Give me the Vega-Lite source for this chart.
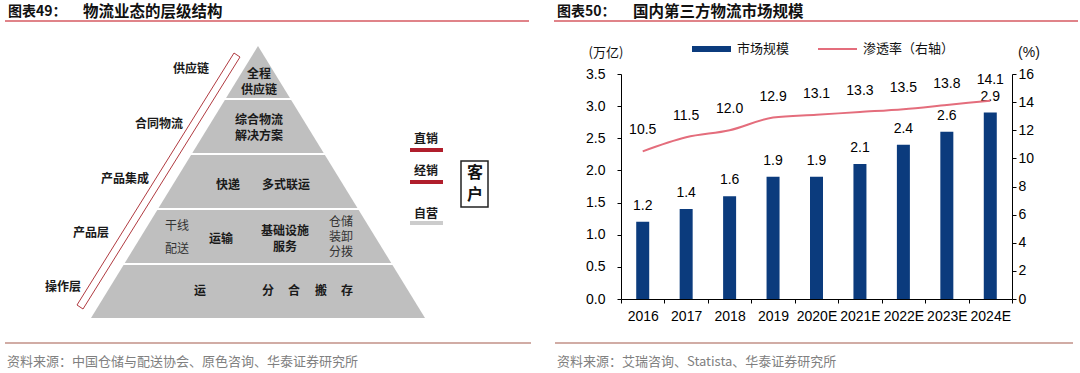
{
  "$schema": "https://vega.github.io/schema/vega-lite/v6.json",
  "width": 391,
  "height": 225,
  "padding": 0,
  "autosize": {"type": "pad"},
  "background": "white",
  "config": {
    "view": {"stroke": null},
    "axis": {"labelFont": "Liberation Sans", "labelFontSize": 14, "labelColor": "#000", "domainColor": "#000", "tickColor": "#000", "grid": false, "title": null}
  },
  "datasets": {
    "market": [
      {"year": "2016", "size": 1.2, "rate": 10.5},
      {"year": "2017", "size": 1.4, "rate": 11.5},
      {"year": "2018", "size": 1.6, "rate": 12.0},
      {"year": "2019", "size": 1.9, "rate": 12.9},
      {"year": "2020E", "size": 1.9, "rate": 13.1},
      {"year": "2021E", "size": 2.1, "rate": 13.3},
      {"year": "2022E", "size": 2.4, "rate": 13.5},
      {"year": "2023E", "size": 2.6, "rate": 13.8},
      {"year": "2024E", "size": 2.9, "rate": 14.1}
    ],
    "bounds": [{"x": 0, "x2": 1080, "y": 0, "y2": 373}],
    "pyramid": [
      {"y": 46, "xl": 258, "xr": 258},
      {"y": 318, "xl": 91, "xr": 425}
    ],
    "strip": [
      {"i": 0, "x": 77, "y": 305},
      {"i": 1, "x": 234, "y": 53},
      {"i": 2, "x": 240, "y": 57},
      {"i": 3, "x": 83, "y": 309},
      {"i": 4, "x": 77, "y": 305}
    ],
    "box": [{"x": 461, "x2": 488, "y": 161, "y2": 207}],
    "rules": [
      {"k": "title", "x": 5, "x2": 529, "y": 21},
      {"k": "title", "x": 554, "x2": 1078, "y": 21},
      {"k": "foot", "x": 5, "x2": 531, "y": 343},
      {"k": "foot", "x": 555, "x2": 1073, "y": 343},
      {"k": "sep", "x": 223, "x2": 293, "y": 99},
      {"k": "sep", "x": 189, "x2": 327, "y": 154},
      {"k": "sep", "x": 155, "x2": 361, "y": 209},
      {"k": "sep", "x": 121, "x2": 395, "y": 264},
      {"k": "red", "x": 410, "x2": 443, "y": 150},
      {"k": "red", "x": 410, "x2": 443, "y": 182},
      {"k": "gray", "x": 410, "x2": 443, "y": 223},
      {"k": "legBar", "x": 692, "x2": 731, "y": 49},
      {"k": "legLine", "x": 818, "x2": 857, "y": 49}
    ],
    "labels": [
      {"k": "tnum", "x": 8, "y": 12, "t": "图表49："},
      {"k": "ttl", "x": 83, "y": 12, "t": "物流业态的层级结构"},
      {"k": "tnum", "x": 557, "y": 12, "t": "图表50："},
      {"k": "ttl", "x": 633, "y": 12, "t": "国内第三方物流市场规模"},
      {"k": "foot", "x": 7, "y": 362, "t": "资料来源：中国仓储与配送协会、原色咨询、华泰证券研究所"},
      {"k": "foot", "x": 557, "y": 362, "t": "资料来源：艾瑞咨询、Statista、华泰证券研究所"},
      {"k": "side", "x": 191, "y": 69, "t": "供应链"},
      {"k": "side", "x": 159, "y": 124, "t": "合同物流"},
      {"k": "side", "x": 125, "y": 179, "t": "产品集成"},
      {"k": "side", "x": 91, "y": 233, "t": "产品层"},
      {"k": "side", "x": 63, "y": 287, "t": "操作层"},
      {"k": "side", "x": 426, "y": 139, "t": "直销"},
      {"k": "side", "x": 426, "y": 171, "t": "经销"},
      {"k": "side", "x": 426, "y": 214, "t": "自营"},
      {"k": "pb", "x": 259, "y": 74, "t": "全程"},
      {"k": "pb", "x": 259, "y": 90, "t": "供应链"},
      {"k": "pb", "x": 259, "y": 120, "t": "综合物流"},
      {"k": "pb", "x": 259, "y": 136, "t": "解决方案"},
      {"k": "pb", "x": 228, "y": 185, "t": "快递"},
      {"k": "pb", "x": 286, "y": 185, "t": "多式联运"},
      {"k": "pb", "x": 221, "y": 239, "t": "运输"},
      {"k": "pb", "x": 285, "y": 231, "t": "基础设施"},
      {"k": "pb", "x": 285, "y": 247, "t": "服务"},
      {"k": "pb", "x": 200, "y": 291, "t": "运"},
      {"k": "pb", "x": 268, "y": 291, "t": "分"},
      {"k": "pb", "x": 294, "y": 291, "t": "合"},
      {"k": "pb", "x": 321, "y": 291, "t": "搬"},
      {"k": "pb", "x": 347, "y": 291, "t": "存"},
      {"k": "pn", "x": 177, "y": 226, "t": "干线"},
      {"k": "pn", "x": 177, "y": 249, "t": "配送"},
      {"k": "pn", "x": 341, "y": 222, "t": "仓储"},
      {"k": "pn", "x": 341, "y": 237, "t": "装卸"},
      {"k": "pn", "x": 341, "y": 252, "t": "分拨"},
      {"k": "cust", "x": 475, "y": 173, "t": "客"},
      {"k": "cust", "x": 475, "y": 195, "t": "户"},
      {"k": "unit", "x": 606, "y": 53, "t": "(万亿)"},
      {"k": "pct", "x": 1029, "y": 53, "t": "(%)"},
      {"k": "leg", "x": 737, "y": 49, "t": "市场规模"},
      {"k": "leg", "x": 863, "y": 49, "t": "渗透率（右轴）"}
    ]
  },
  "layer": [
    {
      "data": {"name": "market"},
      "encoding": {
        "x": {"field": "year", "type": "nominal", "sort": null, "scale": {"paddingInner": 0, "paddingOuter": 0},
          "axis": {"title": null, "labelAngle": 0, "tickBand": "extent", "tickSize": 4, "labelPadding": 6, "labelOverlap": false}},
        "y": {"field": "size", "type": "quantitative", "scale": {"domain": [0, 3.5], "nice": false},
          "axis": {"title": null, "values": [0, 0.5, 1, 1.5, 2, 2.5, 3, 3.5], "format": ".1f", "tickSize": 4, "labelPadding": 12}}
      },
      "layer": [
        {"mark": {"type": "bar", "size": 13, "color": "#0b3b7d"}},
        {"mark": {"type": "text", "dy": -16, "baseline": "middle", "font": "Liberation Sans", "fontSize": 14, "color": "#000"},
          "encoding": {"text": {"field": "size", "type": "quantitative", "format": ".1f"}}}
      ]
    },
    {
      "data": {"name": "market"},
      "encoding": {
        "x": {"field": "year", "type": "nominal", "sort": null, "scale": {"paddingInner": 0, "paddingOuter": 0}, "axis": null},
        "y": {"field": "rate", "type": "quantitative", "scale": {"domain": [0, 16], "nice": false},
          "axis": {"orient": "right", "title": null, "values": [0, 2, 4, 6, 8, 10, 12, 14, 16], "tickSize": 4, "labelPadding": 2}}
      },
      "layer": [
        {"mark": {"type": "line", "color": "#e46d7c", "strokeWidth": 2, "interpolate": "monotone"}},
        {"mark": {"type": "text", "dy": -21, "baseline": "middle", "font": "Liberation Sans", "fontSize": 14, "color": "#000"},
          "encoding": {"text": {"field": "rate", "type": "quantitative", "format": ".1f"}}}
      ]
    },
    {
      "layer": [
        {
          "data": {"name": "bounds"},
          "mark": {"type": "rect", "fill": "white", "opacity": 0, "clip": false},
          "encoding": {
            "x": {"field": "x", "type": "quantitative", "scale": {"domain": [621, 1012], "nice": false, "zero": false}, "axis": null},
            "x2": {"field": "x2"},
            "y": {"field": "y", "type": "quantitative", "scale": {"domain": [74, 299], "nice": false, "zero": false, "reverse": true}, "axis": null},
            "y2": {"field": "y2"}
          }
        },
        {
          "data": {"name": "pyramid"},
          "mark": {"type": "area", "orient": "horizontal", "color": "#bfbfbf", "clip": false},
          "encoding": {
            "y": {"field": "y", "type": "quantitative", "scale": {"domain": [74, 299], "nice": false, "zero": false, "reverse": true}, "axis": null},
            "x": {"field": "xl", "type": "quantitative", "scale": {"domain": [621, 1012], "nice": false, "zero": false}, "axis": null},
            "x2": {"field": "xr"}
          }
        },
        {
          "data": {"name": "rules"},
          "transform": [{"filter": "datum.k == 'sep'"}],
          "mark": {"type": "rule", "color": "#ffffff", "strokeWidth": 2, "clip": false},
          "encoding": {"x": {"field": "x", "type": "quantitative"}, "x2": {"field": "x2"}, "y": {"field": "y", "type": "quantitative"}}
        },
        {
          "data": {"name": "rules"},
          "transform": [{"filter": "datum.k == 'title'"}],
          "mark": {"type": "rule", "color": "#d65a62", "strokeWidth": 1.5, "clip": false},
          "encoding": {"x": {"field": "x", "type": "quantitative"}, "x2": {"field": "x2"}, "y": {"field": "y", "type": "quantitative"}}
        },
        {
          "data": {"name": "rules"},
          "transform": [{"filter": "datum.k == 'foot'"}],
          "mark": {"type": "rule", "color": "#a35a4c", "strokeWidth": 1.2, "clip": false},
          "encoding": {"x": {"field": "x", "type": "quantitative"}, "x2": {"field": "x2"}, "y": {"field": "y", "type": "quantitative"}}
        },
        {
          "data": {"name": "rules"},
          "transform": [{"filter": "datum.k == 'red'"}],
          "mark": {"type": "rule", "color": "#b01e2c", "strokeWidth": 4, "clip": false},
          "encoding": {"x": {"field": "x", "type": "quantitative"}, "x2": {"field": "x2"}, "y": {"field": "y", "type": "quantitative"}}
        },
        {
          "data": {"name": "rules"},
          "transform": [{"filter": "datum.k == 'gray'"}],
          "mark": {"type": "rule", "color": "#cccccc", "strokeWidth": 4, "clip": false},
          "encoding": {"x": {"field": "x", "type": "quantitative"}, "x2": {"field": "x2"}, "y": {"field": "y", "type": "quantitative"}}
        },
        {
          "data": {"name": "rules"},
          "transform": [{"filter": "datum.k == 'legBar'"}],
          "mark": {"type": "rule", "color": "#0b3b7d", "strokeWidth": 6, "clip": false},
          "encoding": {"x": {"field": "x", "type": "quantitative"}, "x2": {"field": "x2"}, "y": {"field": "y", "type": "quantitative"}}
        },
        {
          "data": {"name": "rules"},
          "transform": [{"filter": "datum.k == 'legLine'"}],
          "mark": {"type": "rule", "color": "#e46d7c", "strokeWidth": 2, "clip": false},
          "encoding": {"x": {"field": "x", "type": "quantitative"}, "x2": {"field": "x2"}, "y": {"field": "y", "type": "quantitative"}}
        },
        {
          "data": {"name": "strip"},
          "mark": {"type": "line", "color": "#b03a40", "strokeWidth": 1, "clip": false},
          "encoding": {"x": {"field": "x", "type": "quantitative"}, "y": {"field": "y", "type": "quantitative"}, "order": {"field": "i"}}
        },
        {
          "data": {"name": "box"},
          "mark": {"type": "rect", "fill": null, "stroke": "#222222", "strokeWidth": 1.5, "clip": false},
          "encoding": {"x": {"field": "x", "type": "quantitative"}, "x2": {"field": "x2"}, "y": {"field": "y", "type": "quantitative"}, "y2": {"field": "y2"}}
        },
        {
          "data": {"name": "labels"},
          "transform": [{"filter": "datum.k == 'tnum'"}],
          "mark": {"type": "text", "align": "left", "baseline": "middle", "font": "Noto Sans CJK SC", "fontWeight": "bold", "fontSize": 14, "color": "#111", "clip": false},
          "encoding": {"x": {"field": "x", "type": "quantitative"}, "y": {"field": "y", "type": "quantitative"}, "text": {"field": "t"}}
        },
        {
          "data": {"name": "labels"},
          "transform": [{"filter": "datum.k == 'ttl'"}],
          "mark": {"type": "text", "align": "left", "baseline": "middle", "font": "Noto Sans CJK SC", "fontWeight": "bold", "fontSize": 15.5, "color": "#111", "clip": false},
          "encoding": {"x": {"field": "x", "type": "quantitative"}, "y": {"field": "y", "type": "quantitative"}, "text": {"field": "t"}}
        },
        {
          "data": {"name": "labels"},
          "transform": [{"filter": "datum.k == 'foot'"}],
          "mark": {"type": "text", "align": "left", "baseline": "middle", "font": "Noto Sans CJK SC", "fontSize": 13, "color": "#808080", "clip": false},
          "encoding": {"x": {"field": "x", "type": "quantitative"}, "y": {"field": "y", "type": "quantitative"}, "text": {"field": "t"}}
        },
        {
          "data": {"name": "labels"},
          "transform": [{"filter": "datum.k == 'side' || datum.k == 'pb'"}],
          "mark": {"type": "text", "align": "center", "baseline": "middle", "font": "Noto Sans CJK SC", "fontWeight": "bold", "fontSize": 12, "color": "#1a1a1a", "clip": false},
          "encoding": {"x": {"field": "x", "type": "quantitative"}, "y": {"field": "y", "type": "quantitative"}, "text": {"field": "t"}}
        },
        {
          "data": {"name": "labels"},
          "transform": [{"filter": "datum.k == 'pn'"}],
          "mark": {"type": "text", "align": "center", "baseline": "middle", "font": "Noto Sans CJK SC", "fontSize": 12, "color": "#333", "clip": false},
          "encoding": {"x": {"field": "x", "type": "quantitative"}, "y": {"field": "y", "type": "quantitative"}, "text": {"field": "t"}}
        },
        {
          "data": {"name": "labels"},
          "transform": [{"filter": "datum.k == 'cust'"}],
          "mark": {"type": "text", "align": "center", "baseline": "middle", "font": "Noto Sans CJK SC", "fontWeight": "bold", "fontSize": 16, "color": "#111", "clip": false},
          "encoding": {"x": {"field": "x", "type": "quantitative"}, "y": {"field": "y", "type": "quantitative"}, "text": {"field": "t"}}
        },
        {
          "data": {"name": "labels"},
          "transform": [{"filter": "datum.k == 'unit'"}],
          "mark": {"type": "text", "align": "center", "baseline": "middle", "font": "Noto Sans CJK SC", "fontSize": 13, "color": "#111", "clip": false},
          "encoding": {"x": {"field": "x", "type": "quantitative"}, "y": {"field": "y", "type": "quantitative"}, "text": {"field": "t"}}
        },
        {
          "data": {"name": "labels"},
          "transform": [{"filter": "datum.k == 'pct'"}],
          "mark": {"type": "text", "align": "center", "baseline": "middle", "font": "Liberation Sans", "fontSize": 14, "color": "#111", "clip": false},
          "encoding": {"x": {"field": "x", "type": "quantitative"}, "y": {"field": "y", "type": "quantitative"}, "text": {"field": "t"}}
        },
        {
          "data": {"name": "labels"},
          "transform": [{"filter": "datum.k == 'leg'"}],
          "mark": {"type": "text", "align": "left", "baseline": "middle", "font": "Noto Sans CJK SC", "fontSize": 13, "color": "#111", "clip": false},
          "encoding": {"x": {"field": "x", "type": "quantitative"}, "y": {"field": "y", "type": "quantitative"}, "text": {"field": "t"}}
        }
      ]
    }
  ],
  "resolve": {"scale": {"x": "independent", "y": "independent"}}
}
